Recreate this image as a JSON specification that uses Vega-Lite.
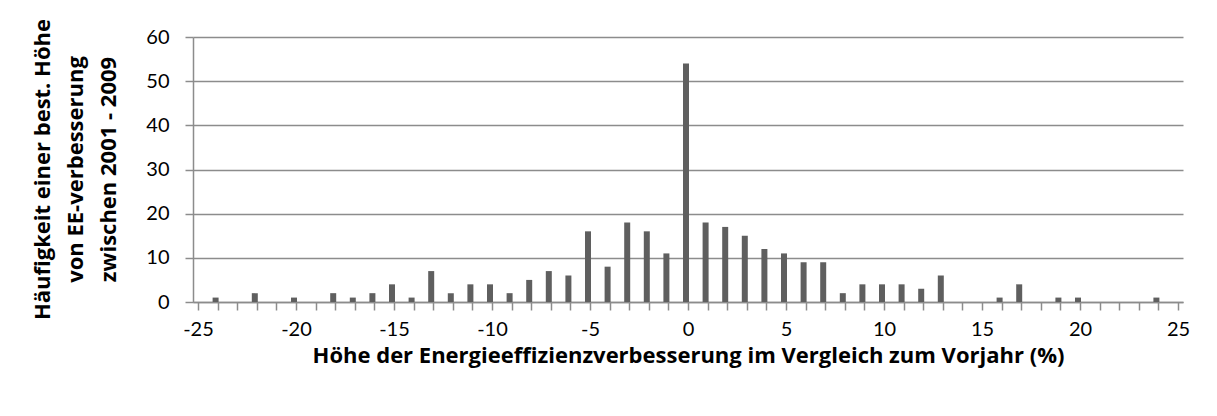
{
  "$schema": "https://vega.github.io/schema/vega-lite/v6.json",
  "autosize": "none",
  "width": 990,
  "height": 265,
  "padding": {"left": 193, "top": 37, "right": 34, "bottom": 114},
  "background": "white",
  "config": {
    "view": {"stroke": null},
    "font": "Lato",
    "axis": {
      "labelFont": "Lato",
      "titleFont": "Open Sans",
      "labelFontSize": 20,
      "titleFontSize": 22,
      "labelColor": "#000000",
      "titleColor": "#000000",
      "domainColor": "#8c8c8c",
      "tickColor": "#8c8c8c",
      "gridColor": "#8c8c8c",
      "gridOpacity": 1,
      "domainWidth": 1.5,
      "tickWidth": 1.5,
      "gridWidth": 1.5,
      "tickSize": 8
    }
  },
  "data": {
    "values": [
      {"v": -24, "n": 1}, {"v": -23, "n": 0}, {"v": -22, "n": 2}, {"v": -21, "n": 0},
      {"v": -20, "n": 1}, {"v": -19, "n": 0}, {"v": -18, "n": 2}, {"v": -17, "n": 1},
      {"v": -16, "n": 2}, {"v": -15, "n": 4}, {"v": -14, "n": 1}, {"v": -13, "n": 7},
      {"v": -12, "n": 2}, {"v": -11, "n": 4}, {"v": -10, "n": 4}, {"v": -9, "n": 2},
      {"v": -8, "n": 5}, {"v": -7, "n": 7}, {"v": -6, "n": 6}, {"v": -5, "n": 16},
      {"v": -4, "n": 8}, {"v": -3, "n": 18}, {"v": -2, "n": 16}, {"v": -1, "n": 11},
      {"v": 0, "n": 54}, {"v": 1, "n": 18}, {"v": 2, "n": 17}, {"v": 3, "n": 15},
      {"v": 4, "n": 12}, {"v": 5, "n": 11}, {"v": 6, "n": 9}, {"v": 7, "n": 9},
      {"v": 8, "n": 2}, {"v": 9, "n": 4}, {"v": 10, "n": 4}, {"v": 11, "n": 4},
      {"v": 12, "n": 3}, {"v": 13, "n": 6}, {"v": 14, "n": 0}, {"v": 15, "n": 0},
      {"v": 16, "n": 1}, {"v": 17, "n": 4}, {"v": 18, "n": 0}, {"v": 19, "n": 1},
      {"v": 20, "n": 1}, {"v": 21, "n": 0}, {"v": 22, "n": 0}, {"v": 23, "n": 0},
      {"v": 24, "n": 1}
    ]
  },
  "mark": {"type": "bar", "size": 6, "color": "#5f5f5f", "xOffset": -2},
  "encoding": {
    "x": {
      "field": "v",
      "type": "quantitative",
      "scale": {"domain": [-25, 25], "nice": false, "zero": false},
      "axis": {
        "title": "Höhe der Energieeffizienzverbesserung im Vergleich zum Vorjahr  (%)",
        "titleFontWeight": "bold",
        "values": [-25,-24,-23,-22,-21,-20,-19,-18,-17,-16,-15,-14,-13,-12,-11,-10,-9,-8,-7,-6,-5,-4,-3,-2,-1,0,1,2,3,4,5,6,7,8,9,10,11,12,13,14,15,16,17,18,19,20,21,22,23,24,25],
        "labelExpr": "datum.value % 5 === 0 ? '' + datum.value : ''",
        "labelPadding": 9,
        "labelFlush": false,
        "labelOverlap": false,
        "grid": false,
        "titleY": 53,
        "titleBaseline": "middle"
      }
    },
    "y": {
      "field": "n",
      "type": "quantitative",
      "scale": {"domain": [0, 60], "nice": false},
      "axis": {
        "title": ["Häufigkeit einer best. Höhe", "von EE-verbesserung", "zwischen 2001 - 2009"],
        "titleFontWeight": "bold",
        "values": [0, 10, 20, 30, 40, 50, 60],
        "labelPadding": 16,
        "grid": true,
        "titleX": -151,
        "titleY": 132,
        "titleAngle": -90,
        "titleAlign": "center",
        "titleBaseline": "middle",
        "titleLineHeight": 33
      }
    }
  }
}
